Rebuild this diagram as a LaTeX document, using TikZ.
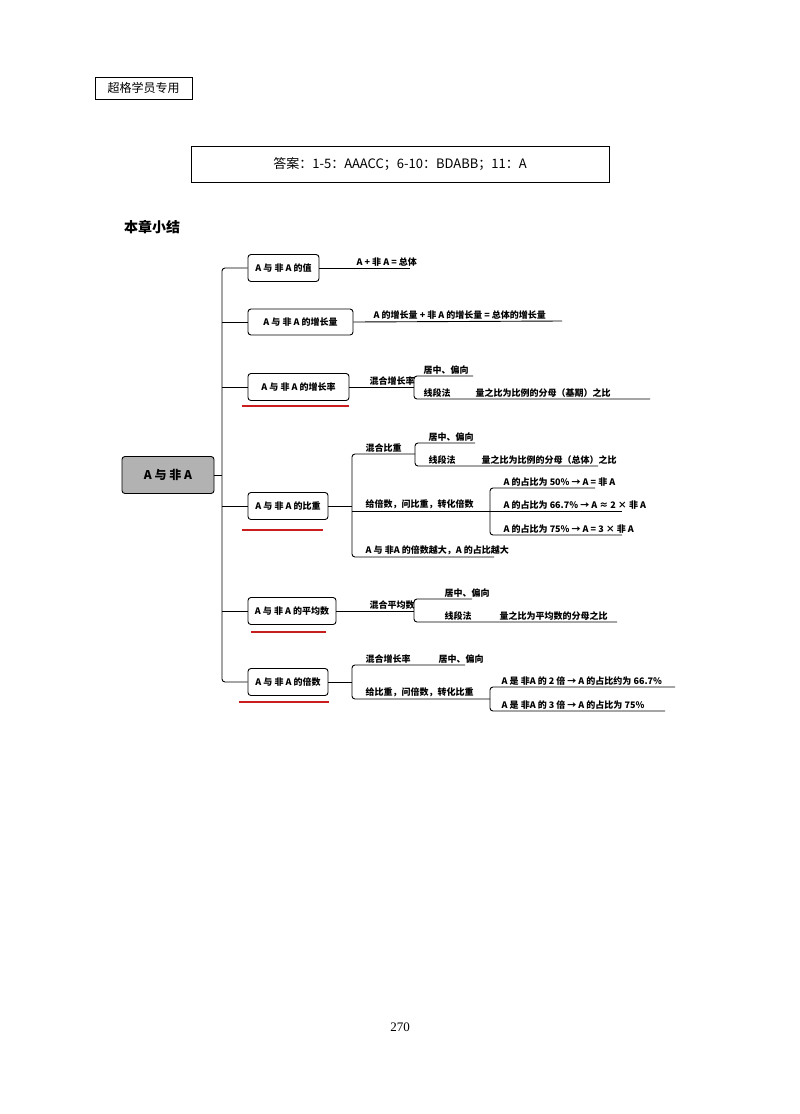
\documentclass[tikz,border=0pt]{standalone}
\usepackage{fontspec}
\setmainfont{Noto Sans CJK SC}
\newfontfamily\serifcjk{Liberation Serif}
\definecolor{uline}{RGB}{200,30,30}
\begin{document}
\begin{tikzpicture}[x=1pt,y=-1pt,
  box/.style={draw,rounded corners=3pt,line width=0.9pt,font=\bfseries\fontsize{9}{10}\selectfont,inner sep=0pt},
  lab/.style={anchor=south west,font=\bfseries\fontsize{9}{10}\selectfont,inner sep=1.5pt},
  ln/.style={line width=0.9pt},
  br/.style={line width=0.9pt,rounded corners=3pt},
  redline/.style={draw=uline,line width=1.2pt}]
\useasboundingbox (0,0) rectangle (800,1114);
\node[draw,line width=0.6pt,minimum width=97,minimum height=22,inner sep=0pt,font=\fontsize{12}{13}\selectfont] (tag) at (143.5,88) {超格学员专用};
\node[draw,line width=0.6pt,minimum width=418,minimum height=36,inner sep=0pt,font=\fontsize{13}{14}\selectfont] (ans) at (400,164) {答案：1-5：AAACC；6-10：BDABB；11：A};
\node[anchor=west,font=\bfseries\fontsize{14}{15}\selectfont,inner sep=0pt] (title) at (124,227) {本章小结};
\node[box,fill=gray!60,minimum width=92,minimum height=37,font=\bfseries\fontsize{12}{13}\selectfont] (root) at (168,475) {A 与 非 A};
% children
\node[box,minimum width=71,minimum height=27] (c1) at (283.5,268) {A 与 非 A 的值};
\node[box,minimum width=105,minimum height=26] (c2) at (300.5,322) {A 与 非 A 的增长量};
\node[box,minimum width=101,minimum height=27] (c3) at (298.5,387) {A 与 非 A 的增长率};
\node[box,minimum width=80,minimum height=27] (c4) at (288,506) {A 与 非 A 的比重};
\node[box,minimum width=88,minimum height=27] (c5) at (292,611) {A 与 非 A 的平均数};
\node[box,minimum width=80,minimum height=27] (c6) at (288,682) {A 与 非 A 的倍数};
\draw[br] (c1.west) -- (222,268) -- (222,682) -- (c6.west);
\draw[ln] (root.east) -- (222,475);
\foreach \c in {c2,c3,c4,c5} \draw[ln] (222,0 |- \c.west) -- (\c.west);
% red underlines
\draw[redline] (242,406) -- (349,406);
\draw[redline] (242,530) -- (323,530);
\draw[redline] (251,632) -- (326,632);
\draw[redline] (239,702) -- (329,702);
% c1, c2
\draw[ln] (c1.east) -- (410,268) coordinate (e1);
\node[lab] (t1) at (355,268) {A + 非 A = 总体};
\draw[ln] (c2.east) -- (562,321) coordinate (e2);
\node[lab] (t2) at (372,321) {A 的增长量 + 非 A 的增长量 = 总体的增长量};
% c3
\draw[ln] (c3.east) -- (414,387) coordinate (b3);
\node[lab] (t3) at (368,387) {混合增长率};
\draw[br] (473,376) -- (414,376) -- (414,399) -- (650,399);
\node[lab] (t3a) at (422,376) {居中、偏向};
\node[lab] (t3b) at (422,399) {线段法};
\node[lab] (t3c) at (474,399) {量之比为比例的分母（基期）之比};
% c4
\draw[ln] (c4.east) -- (352,506) coordinate (b4);
\draw[br] (415,454) -- (352,454) -- (352,557) -- (494,557);
\draw[ln] (352,511) -- (490,511);
\node[lab] (t4a) at (364,454) {混合比重};
\draw[br] (475,443) -- (415,443) -- (415,466) -- (598,466);
\node[lab] (t4a1) at (427,443) {居中、偏向};
\node[lab] (t4a2) at (427,466) {线段法};
\node[lab] (t4a3) at (480,466) {量之比为比例的分母（总体）之比};
\node[lab] (t4b) at (364,511) {给倍数，问比重，转化倍数};
\draw[br] (595,488) -- (490,488) -- (490,535) -- (622,535);
\draw[ln] (490,511) -- (622,511);
\node[lab] (t4b1) at (502,488) {A 的占比为 50\% → A = 非 A};
\node[lab] (t4b2) at (502,511) {A 的占比为 66.7\% → A ≈ 2 × 非 A};
\node[lab] (t4b3) at (502,535) {A 的占比为 75\% → A = 3 × 非 A};
\node[lab] (t4c) at (364,557) {A 与 非A 的倍数越大，A 的占比越大};
% c5
\draw[ln] (c5.east) -- (414,611) coordinate (b5);
\node[lab] (t5) at (368,611) {混合平均数};
\draw[br] (472,599) -- (414,599) -- (414,622) -- (617,622);
\node[lab] (t5a) at (443,599) {居中、偏向};
\node[lab] (t5b) at (443,622) {线段法};
\node[lab] (t5c) at (498,622) {量之比为平均数的分母之比};
% c6
\draw[ln] (c6.east) -- (352,682) coordinate (b6);
\draw[br] (465,665) -- (352,665) -- (352,699) -- (490,699);
\node[lab] (t6a) at (364,665) {混合增长率};
\node[lab] (t6a1) at (437,665) {居中、偏向};
\node[lab] (t6b) at (364,699) {给比重，问倍数，转化比重};
\draw[br] (675,687) -- (490,687) -- (490,711) -- (665,711);
\node[lab] (t6b1) at (500,687) {A 是 非A 的 2 倍 → A 的占比约为 66.7\%};
\node[lab] (t6b2) at (500,711) {A 是 非A 的 3 倍 → A 的占比为 75\%};
\node[font=\serifcjk\fontsize{13}{14}\selectfont] (pg) at (400,1027) {270};
\end{tikzpicture}
\end{document}
